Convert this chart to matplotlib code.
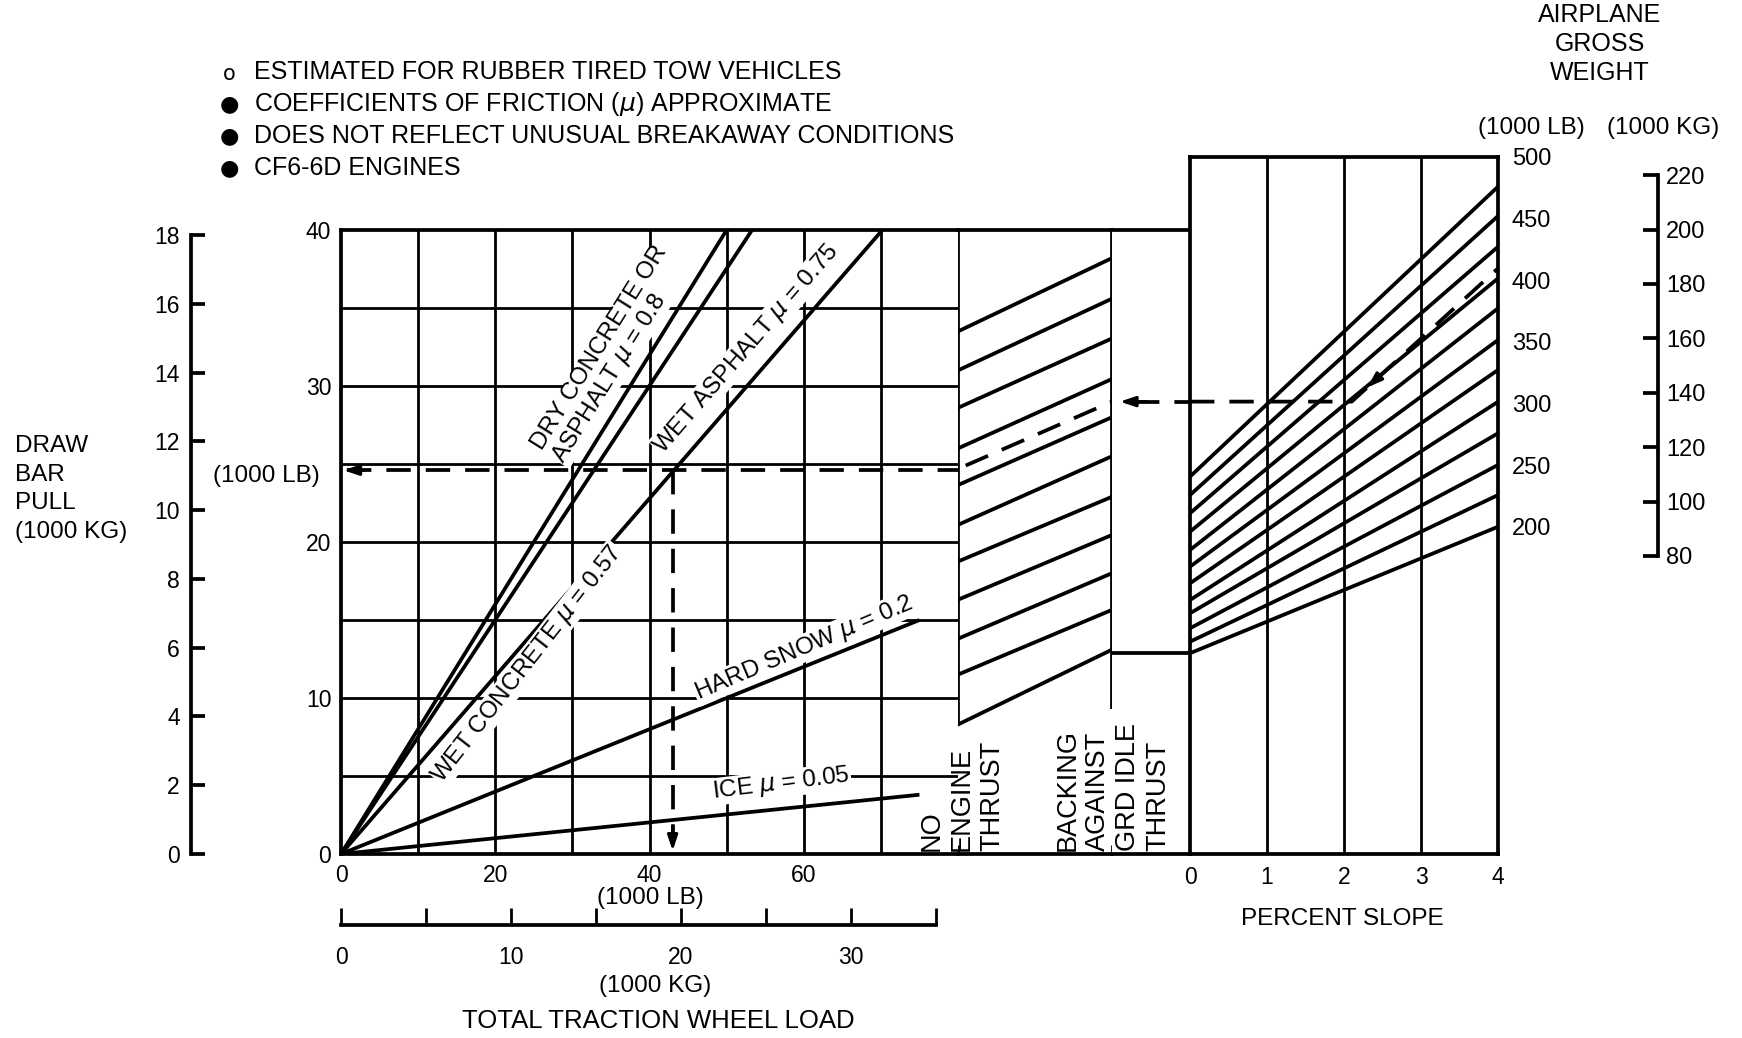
import matplotlib
matplotlib.use("Agg")
import matplotlib.pyplot as plt
from matplotlib.ticker import FixedLocator

plt.rcParams["font.family"] = ["Liberation Sans", "DejaVu Sans"]

W, H = 1742, 1038
LB_TO_KG = 0.4536

# friction lines: drawbar pull (1000 lb) vs total traction wheel load (1000 lb)
friction_labels = [
    "DRY CONCRETE OR\nASPHALT $\\mu$ = 0.8",
    "WET ASPHALT $\\mu$ = 0.75",
    "WET CONCRETE $\\mu$ = 0.57",
    "HARD SNOW $\\mu$ = 0.2",
    "ICE $\\mu$ = 0.05",
]
friction_end_x = [50.0, 53.3, 70.2, 75.0, 75.0]
friction_end_y = [40.0, 40.0, 40.0, 15.0, 3.8]

# guide lines of the "no engine thrust" panel (left edge / right edge)
guide_left = [33.5, 31.0, 28.6, 26.0, 23.65, 21.1, 18.75, 16.3, 13.8, 11.5, 8.3]
guide_right = [38.2, 35.6, 33.05, 30.45, 28.0, 25.5, 22.9, 20.45, 18.0, 15.65, 13.1]
idle_thrust_pull = 12.87

# gross weight lines (1000 lb) at 0 % and 4 % slope
gross_weight = [200, 225, 250, 275, 300, 325, 350, 375, 400, 425, 450, 475]
pull_at_0 = [12.87, 13.61, 14.47, 15.43, 16.28, 17.35, 18.42, 19.49, 20.66, 21.84, 23.01, 24.19]
pull_at_4 = [20.98, 23.01, 24.94, 26.97, 28.99, 31.03, 32.95, 34.98, 36.90, 38.93, 40.90, 42.78]

# example reading path
example_load = 43.0
example_pull = 24.6
example_guide = [24.9, 29.0]
example_slope = [2.1, 4.0]
example_end = 37.54

load_ticks = [0, 20, 40, 60]
pull_ticks = [0, 10, 20, 30, 40]
slope_ticks = [0, 1, 2, 3, 4]
weight_ticks = [200, 250, 300, 350, 400, 450, 500]
weight_kg_ticks = [80, 100, 120, 140, 160, 180, 200, 220]
pull_kg_ticks = [0, 2, 4, 6, 8, 10, 12, 14, 16, 18]
load_kg_ticks = [0, 10, 20, 30]
load_kg_minor = [5, 15, 25, 35]

FS = 17.5
TS = 16.5
LW = 2.7
GW = 2.0
DASH = (0, (6.5, 4))

fig = plt.figure(figsize=(W / 100, H / 100), dpi=100)


def ax_at(x0, x1, ybot, ytop):
    return fig.add_axes([x0 / W, 1 - ybot / H, (x1 - x0) / W, (ybot - ytop) / H])


def ftext(x, y, s, **kw):
    kw.setdefault("fontsize", FS)
    return fig.text(x / W, 1 - y / H, s, **kw)


def arrow(ax, tip, tail):
    ax.annotate("", xy=tip, xytext=tail,
                arrowprops=dict(arrowstyle="-|>,head_length=0.9,head_width=0.3",
                                color="black", lw=2.2, shrinkA=0, shrinkB=0),
                annotation_clip=False)


def frame(ax, show):
    for side, sp in ax.spines.items():
        sp.set_visible(side in show)
        sp.set_linewidth(LW)


# ---- left panel
ax_l = ax_at(341, 958, 854, 230)
ax_l.set_xlim(0, 80)
ax_l.set_ylim(0, 40)
frame(ax_l, ["left", "top", "bottom"])
ax_l.vlines(range(10, 80, 10), 0, 40, color="black", lw=GW)
ax_l.hlines(range(5, 40, 5), 0, 80, color="black", lw=GW)
for ex, ey in zip(friction_end_x, friction_end_y):
    ax_l.plot([0, ex], [0, ey], color="black", lw=LW, solid_capstyle="butt")
ax_l.set_xticks(load_ticks)
ax_l.set_yticks(pull_ticks)
ax_l.tick_params(length=0, labelsize=TS, pad=7)

label_pos = [(35.0, 32.0, 58), (52.6, 32.4, 49), (24.2, 12.2, 52), (60.0, 13.2, 23), (57.1, 4.5, 7)]
for (tx, ty, rot), s in zip(label_pos, friction_labels):
    ax_l.text(tx, ty, s, rotation=rot, rotation_mode="anchor", ha="center", va="center",
              ma="left", fontsize=FS, linespacing=1.05,
              bbox=dict(facecolor="white", edgecolor="none", pad=0.5))

ax_l.plot([0.8, 80], [example_pull, example_pull], color="black", lw=LW, ls=DASH)
ax_l.plot([example_load, example_load], [example_pull, 0.8], color="black", lw=LW, ls=DASH)
arrow(ax_l, (0.3, example_pull), (3.0, example_pull))
arrow(ax_l, (example_load, 0.2), (example_load, 1.8))

# drawbar pull in 1000 kg
ax_lk = ax_l.twinx()
ax_lk.set_ylim(0, 40 * LB_TO_KG)
frame(ax_lk, ["left"])
ax_lk.spines["left"].set_position(("axes", (191 - 341) / 617))
ax_lk.spines["left"].set_bounds(0, 18)
ax_lk.yaxis.tick_left()
ax_lk.set_yticks(pull_kg_ticks)
ax_lk.tick_params(direction="in", length=10, width=LW, labelsize=TS, pad=8)

# traction wheel load in 1000 kg
ax_bk = ax_l.twiny()
ax_bk.set_xlim(0, 80 * LB_TO_KG)
frame(ax_bk, ["bottom"])
ax_bk.spines["bottom"].set_position(("axes", (854 - 925) / 624))
ax_bk.spines["bottom"].set_bounds(0, 35)
ax_bk.xaxis.tick_bottom()
ax_bk.set_xticks(load_kg_ticks)
ax_bk.xaxis.set_minor_locator(FixedLocator(load_kg_minor))
ax_bk.tick_params(which="both", direction="in", length=12, width=GW, labelsize=TS, pad=15)

# ---- no engine thrust panel
ax_m = ax_at(958, 1112, 854, 230)
ax_m.set_xlim(0, 1)
ax_m.set_ylim(0, 40)
frame(ax_m, ["top", "bottom"])
ax_m.set_xticks([])
ax_m.set_yticks([])
ax_m.vlines(0, guide_left[-1], 40, color="black", lw=LW)
ax_m.vlines(1, 9.3, 40, color="black", lw=LW)
ax_m.vlines([0, 1], 0, 0.6, color="black", lw=GW)
for gl, gr in zip(guide_left, guide_right):
    ax_m.plot([0, 1], [gl, gr], color="black", lw=LW)
ax_m.plot([0.05, 1.0], example_guide, color="black", lw=LW, ls=DASH)

# ---- backing against ground idle thrust
ax_b = ax_at(1112, 1190, 854, 230)
ax_b.set_xlim(0, 1)
ax_b.set_ylim(0, 40)
frame(ax_b, ["top", "bottom"])
ax_b.set_xticks([])
ax_b.set_yticks([])
ax_b.hlines(idle_thrust_pull, 0, 1, color="black", lw=LW)
ax_b.plot([0.3, 1], [example_guide[1]] * 2, color="black", lw=LW, ls=DASH)
arrow(ax_b, (0.1, example_guide[1]), (0.45, example_guide[1]))

# ---- percent slope panel
ax_r = ax_at(1190, 1498, 854, 156.7)
ax_r.set_xlim(0, 4)
ax_r.set_ylim(0, 44.7)
frame(ax_r, ["left", "right", "top", "bottom"])
ax_r.vlines([1, 2, 3], 0, 44.7, color="black", lw=GW)
for p0, p4 in zip(pull_at_0, pull_at_4):
    ax_r.plot([0, 4], [p0, p4], color="black", lw=LW)
ax_r.plot([0, example_slope[0], example_slope[1]],
          [example_guide[1], example_guide[1], example_end], color="black", lw=LW, ls=DASH)
arrow(ax_r, (2.3, 29.9), (2.6, 31.25))
ax_r.set_xticks(slope_ticks)
ax_r.set_yticks([])
ax_r.tick_params(length=0, labelsize=TS, pad=9)

ax_w = ax_r.twinx()
ax_w.set_ylim(-65.3, 500)
frame(ax_w, [])
ax_w.set_yticks(weight_ticks)
ax_w.tick_params(length=0, labelsize=TS + 0.5, pad=10)

ax_wk = ax_r.twinx()
ax_wk.set_ylim(-65.3 * LB_TO_KG, 500 * LB_TO_KG)
frame(ax_wk, ["right"])
ax_wk.spines["right"].set_position(("axes", (1658 - 1190) / 308))
ax_wk.spines["right"].set_bounds(80, 220)
ax_wk.set_yticks(weight_kg_ticks)
ax_wk.tick_params(direction="in", length=11, width=LW, labelsize=TS + 0.5, pad=6)

# ---- texts
notes = ["ESTIMATED FOR RUBBER TIRED TOW VEHICLES",
         "COEFFICIENTS OF FRICTION ($\\mu$) APPROXIMATE",
         "DOES NOT REFLECT UNUSUAL BREAKAWAY CONDITIONS",
         "CF6-6D ENGINES"]
bullets = ["o", "\u25cf", "\u25cf", "\u25cf"]
for i, (b, s) in enumerate(zip(bullets, notes)):
    y = 72 + i * 32
    ftext(229, y + (0 if i else 2), b, ha="center", va="center",
          fontsize=16 if i else 15, family="DejaVu Sans")
    ftext(254, y, s, ha="left", va="center", fontsize=18)

ftext(15, 489, "DRAW\nBAR\nPULL\n(1000 KG)", ha="left", va="center", linespacing=1.4)
ftext(266, 476, "(1000 LB)", ha="center", va="center")
ftext(650, 898, "(1000 LB)", ha="center", va="center")
ftext(655, 986, "(1000 KG)", ha="center", va="center")
ftext(658, 1021, "TOTAL TRACTION WHEEL LOAD", ha="center", va="center", fontsize=18.5)
ftext(1342, 919, "PERCENT SLOPE", ha="center", va="center")
ftext(1600, 44, "AIRPLANE\nGROSS\nWEIGHT", ha="center", va="center", linespacing=1.25, fontsize=18)
ftext(1531, 128, "(1000 LB)", ha="center", va="center")
ftext(1663, 128, "(1000 KG)", ha="center", va="center")
ftext(962, 851, "NO\nENGINE\nTHRUST", rotation=90, ha="center", va="bottom", ma="left",
      linespacing=1.22, fontsize=19.5)
ftext(1113, 851, "BACKING\nAGAINST\nGRD IDLE\nTHRUST", rotation=90, ha="center", va="bottom",
      ma="left", linespacing=1.22, fontsize=19.5)

fig.savefig("out.png", dpi=100, facecolor="white")
